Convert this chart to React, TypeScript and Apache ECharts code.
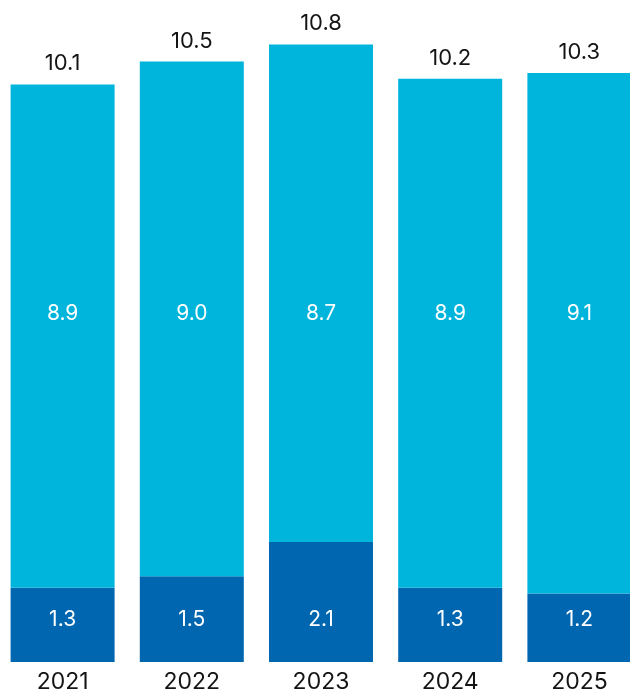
import React, { useEffect, useRef } from "react";
import * as echarts from "echarts";

const years = ["2021", "2022", "2023", "2024", "2025"];
const darkValues = [1.3, 1.5, 2.1, 1.3, 1.2];
const lightValues = [8.9, 9.0, 8.7, 8.9, 9.1];
const totals = [10.1, 10.5, 10.8, 10.2, 10.3];

const LIGHT = "#00b5dc";
const DARK = "#0066b0";
const FONT = "Inter, 'Open Sans', sans-serif";

export default function App() {
  const ref = useRef<HTMLDivElement>(null);
  useEffect(() => {
    if (!ref.current) return;
    const chart = echarts.init(ref.current, null, { renderer: "svg" });
    const lightHeights = totals.map((t, i) => +(t - darkValues[i]).toFixed(2));
    const fixedY = (y: number) => (params: any) => ({
      x: params.rect.x + params.rect.width / 2,
      y,
      align: "center",
      verticalAlign: "middle",
    });
    chart.setOption({
      animation: false,
      grid: {
        left: -2,
        width: 646,
        top: 33,
        bottom: 28,
        containLabel: false,
        outerBoundsMode: "none",
      },
      xAxis: {
        type: "category",
        data: years,
        axisLine: { show: false },
        axisTick: { show: false },
        axisLabel: { color: "#141414", fontSize: 23, fontFamily: FONT, margin: 7 },
      },
      yAxis: { type: "value", min: 0, max: 11, show: false, splitLine: { show: false } },
      series: [
        {
          type: "bar",
          name: "total",
          data: totals,
          barWidth: 104,
          barGap: "-100%",
          itemStyle: { color: "rgba(0,0,0,0)" },
          z: 1,
          label: {
            show: true,
            position: "top",
            distance: 11,
            color: "#141414",
            fontSize: 22,
            fontFamily: FONT,
            formatter: (p: any) => totals[p.dataIndex].toFixed(1),
          },
        },
        {
          type: "bar",
          name: "dark",
          stack: "a",
          data: darkValues,
          barWidth: 104,
          itemStyle: { color: DARK },
          z: 2,
          label: {
            show: true,
            position: "inside",
            color: "#ffffff",
            fontSize: 21,
            fontFamily: FONT,
            formatter: (p: any) => darkValues[p.dataIndex].toFixed(1),
          },
          labelLayout: fixedY(618),
        },
        {
          type: "bar",
          name: "light",
          stack: "a",
          data: lightHeights,
          barWidth: 104,
          itemStyle: { color: LIGHT },
          z: 2,
          label: {
            show: true,
            position: "inside",
            color: "#ffffff",
            fontSize: 21,
            fontFamily: FONT,
            formatter: (p: any) => lightValues[p.dataIndex].toFixed(1),
          },
          labelLayout: fixedY(312),
        },
      ],
    });
    return () => chart.dispose();
  }, []);
  return <div ref={ref} style={{ width: 630, height: 690, position: "fixed", left: 0, top: 0 }} />;
}
